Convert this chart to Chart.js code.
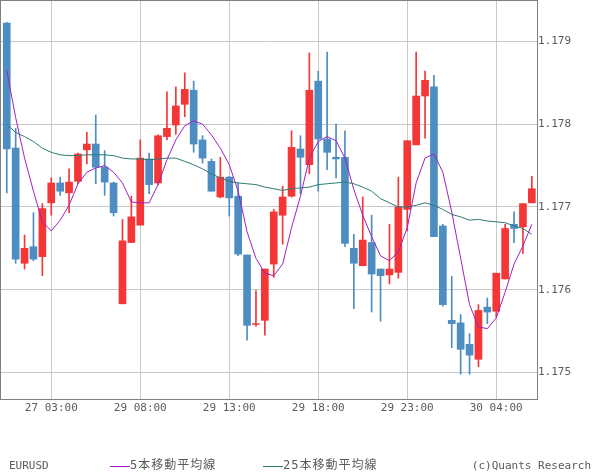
<!DOCTYPE html>
<html>
<head>
<meta charset="utf-8">
<title>EURUSD</title>
<script src="https://cdn.jsdelivr.net/npm/chart.js@4/dist/chart.umd.min.js"></script>
<style>
    body { margin: 0; background: #ffffff; }
    #chart-box { width: 600px; height: 475px; }
</style>
</head>
<body>
<div id="chart-box"><canvas id="candleChart" width="600" height="475"></canvas></div>
<script>
// Candle data (30 min bars)
const opens = [1.17922, 1.17771, 1.17632, 1.17652, 1.17640, 1.17705, 1.17729, 1.17717, 1.17731, 1.17769,
    1.17776, 1.17748, 1.17729, 1.17583, 1.17657, 1.17678, 1.17758, 1.17729, 1.17785, 1.17799,
    1.17824, 1.17841, 1.17781, 1.17755, 1.17712, 1.17736, 1.17713, 1.17642, 1.17558, 1.17563,
    1.17631, 1.17690, 1.17713, 1.17770, 1.17751, 1.17852, 1.17782, 1.17760, 1.17760, 1.17650,
    1.17629, 1.17657, 1.17625, 1.17618, 1.17621, 1.17697, 1.17775, 1.17834, 1.17845, 1.17677,
    1.17563, 1.17560, 1.17534, 1.17516, 1.17579, 1.17574, 1.17613, 1.17679, 1.17676, 1.17705];
const highs = [1.17923, 1.17795, 1.17666, 1.17693, 1.17704, 1.17735, 1.17736, 1.17746, 1.17765, 1.17790,
    1.17811, 1.17768, 1.17730, 1.17685, 1.17713, 1.17781, 1.17765, 1.17787, 1.17839, 1.17845,
    1.17862, 1.17852, 1.17786, 1.17758, 1.17760, 1.17737, 1.17729, 1.17642, 1.17599, 1.17625,
    1.17697, 1.17725, 1.17792, 1.17786, 1.17886, 1.17864, 1.17887, 1.17800, 1.17792, 1.17667,
    1.17712, 1.17690, 1.17625, 1.17679, 1.17736, 1.17780, 1.17887, 1.17864, 1.17859, 1.17679,
    1.17616, 1.17570, 1.17547, 1.17582, 1.17590, 1.17620, 1.17679, 1.17694, 1.17704, 1.17737];
const lows = [1.17717, 1.17632, 1.17625, 1.17635, 1.17617, 1.17690, 1.17714, 1.17693, 1.17728, 1.17752,
    1.17728, 1.17714, 1.17689, 1.17583, 1.17657, 1.17678, 1.17716, 1.17727, 1.17781, 1.17788,
    1.17809, 1.17766, 1.17753, 1.17719, 1.17711, 1.17689, 1.17641, 1.17539, 1.17556, 1.17545,
    1.17615, 1.17655, 1.17712, 1.17716, 1.17740, 1.17719, 1.17745, 1.17735, 1.17652, 1.17577,
    1.17629, 1.17573, 1.17562, 1.17607, 1.17614, 1.17671, 1.17775, 1.17783, 1.17664, 1.17580,
    1.17530, 1.17498, 1.17498, 1.17507, 1.17559, 1.17567, 1.17613, 1.17657, 1.17644, 1.17705];
const closes = [1.17770, 1.17637, 1.17650, 1.17637, 1.17698, 1.17729, 1.17719, 1.17730, 1.17764, 1.17776,
    1.17748, 1.17730, 1.17693, 1.17659, 1.17688, 1.17759, 1.17727, 1.17786, 1.17795, 1.17822,
    1.17842, 1.17776, 1.17759, 1.17719, 1.17736, 1.17711, 1.17643, 1.17557, 1.17559, 1.17625,
    1.17694, 1.17712, 1.17772, 1.17760, 1.17841, 1.17782, 1.17766, 1.17758, 1.17656, 1.17632,
    1.17660, 1.17619, 1.17617, 1.17625, 1.17700, 1.17780, 1.17834, 1.17853, 1.17664, 1.17582,
    1.17559, 1.17528, 1.17521, 1.17575, 1.17573, 1.17620, 1.17674, 1.17674, 1.17704, 1.17722];

// Moving averages as drawn on the picture
const ma5 = [1.17865, 1.17808, 1.17759, 1.17719, 1.17682, 1.17671, 1.17684, 1.17702, 1.17728, 1.17742,
    1.17747, 1.17750, 1.17742, 1.17729, 1.17706, 1.17705, 1.17705, 1.17727, 1.17757, 1.17781,
    1.17798, 1.17804, 1.17800, 1.17787, 1.17771, 1.17751, 1.17719, 1.17670, 1.17638, 1.17620,
    1.17617, 1.17631, 1.17675, 1.17713, 1.17759, 1.17779, 1.17785, 1.17780, 1.17759, 1.17721,
    1.17690, 1.17664, 1.17641, 1.17635, 1.17646, 1.17675, 1.17729, 1.17759, 1.17764, 1.17742,
    1.17694, 1.17638, 1.17582, 1.17555, 1.17553, 1.17566, 1.17597, 1.17631, 1.17653, 1.17679];
const ma25 = [1.17800, 1.17790, 1.17785, 1.17779, 1.17771, 1.17766, 1.17763, 1.17762, 1.17762, 1.17763,
    1.17763, 1.17763, 1.17762, 1.17759, 1.17758, 1.17758, 1.17757, 1.17758, 1.17759, 1.17759,
    1.17755, 1.17751, 1.17746, 1.17740, 1.17735, 1.17731, 1.17729, 1.17728, 1.17727, 1.17724,
    1.17722, 1.17720, 1.17722, 1.17723, 1.17724, 1.17727, 1.17728, 1.17729, 1.17730, 1.17728,
    1.17724, 1.17719, 1.17710, 1.17705, 1.17700, 1.17700, 1.17702, 1.17705, 1.17702, 1.17697,
    1.17691, 1.17688, 1.17684, 1.17685, 1.17683, 1.17682, 1.17681, 1.17677, 1.17674, 1.17667];

// Axis ticks
const timeTickIndex = [5, 15, 25, 35, 45, 55];
const timeTickLabels = ['27 03:00', '29 08:00', '29 13:00', '29 18:00', '29 23:00', '30 04:00'];
const priceTicks = [1.175, 1.176, 1.177, 1.178, 1.179];

const upColor = '#f43636';
const downColor = '#4d8dc1';
const ma5Color = '#a020c0';
const ma25Color = '#2b7b73';
const textColor = '#5a5a5a';
const monoFont = "'DejaVu Sans Mono', 'Noto Sans CJK JP', monospace";

// Build the chart datasets
const candleColors = opens.map((o, i) => closes[i] >= o ? upColor : downColor);
const wickData = highs.map((h, i) => ({ x: i, y: [lows[i], h] }));
const bodyData = opens.map((o, i) => ({ x: i, y: [o, closes[i]] }));
const ma5Data = ma5.map((v, i) => ({ x: i, y: v }));
const ma25Data = ma25.map((v, i) => ({ x: i, y: v }));

// Frame + bottom legend, drawn after the chart
const frameAndLegend = {
    id: 'frameAndLegend',
    afterDraw(chart) {
        const ctx = chart.ctx;
        const area = chart.chartArea;
        ctx.save();
        ctx.strokeStyle = '#808080';
        ctx.lineWidth = 1;
        ctx.strokeRect(area.left + 0.5, area.top + 0.5, area.right - area.left, area.bottom - area.top);

        const y = 466;
        ctx.textBaseline = 'middle';
        ctx.fillStyle = textColor;
        ctx.font = '11px ' + monoFont;
        ctx.fillText('EURUSD', 9, y);

        ctx.textAlign = 'right';
        ctx.fillText('(c)Quants Research', 591, y);
        ctx.textAlign = 'left';

        // legend items for the two averages
        const items = [
            { x: 110, label: '5本移動平均線', color: ma5Color },
            { x: 263, label: '25本移動平均線', color: ma25Color }
        ];
        items.forEach(item => {
            ctx.strokeStyle = item.color;
            ctx.beginPath();
            ctx.moveTo(item.x, y + 0.5);
            ctx.lineTo(item.x + 20, y + 0.5);
            ctx.stroke();
            ctx.fillStyle = textColor;
            ctx.font = '12px ' + monoFont;
            ctx.letterSpacing = '1px';
            ctx.fillText(item.label, item.x + 20, y);
            ctx.letterSpacing = '0px';
        });
        ctx.restore();
    }
};

const ctx = document.getElementById('candleChart').getContext('2d');
const candleChart = new Chart(ctx, {
    type: 'bar',
    data: {
        datasets: [
            {
                type: 'line',
                label: '5本移動平均線',
                data: ma5Data,
                borderColor: ma5Color,
                borderWidth: 1,
                pointRadius: 0,
                tension: 0,
                order: 0
            },
            {
                type: 'line',
                label: '25本移動平均線',
                data: ma25Data,
                borderColor: ma25Color,
                borderWidth: 1,
                pointRadius: 0,
                tension: 0,
                order: 1
            },
            {
                label: 'body',
                data: bodyData,
                backgroundColor: candleColors,
                barThickness: 7,
                grouped: false,
                order: 2
            },
            {
                label: 'wick',
                data: wickData,
                backgroundColor: candleColors,
                barThickness: 1,
                grouped: false,
                order: 3
            }
        ]
    },
    options: {
        responsive: false,
        animation: false,
        devicePixelRatio: 1,
        layout: { padding: 0 },
        plugins: {
            legend: { display: false },
            tooltip: { enabled: false }
        },
        scales: {
            x: {
                type: 'linear',
                offset: false,
                min: -0.76,
                max: 59.58,
                afterFit: (scale) => {
                    scale.height = 76;
                    scale.paddingLeft = 0;
                    scale.paddingRight = 0;
                },
                afterBuildTicks: (scale) => {
                    scale.ticks = timeTickIndex.map(v => ({ value: v }));
                },
                grid: { color: '#c8c8c8', drawTicks: false, offset: false },
                border: { display: false },
                ticks: {
                    padding: 3,
                    maxRotation: 0,
                    autoSkip: false,
                    color: textColor,
                    font: { family: monoFont, size: 11 },
                    callback: (value) => timeTickLabels[timeTickIndex.indexOf(value)]
                }
            },
            y: {
                position: 'right',
                min: 1.17468,
                max: 1.1795,
                afterFit: (scale) => {
                    scale.width = 63;
                    scale.paddingTop = 0;
                    scale.paddingBottom = 0;
                },
                afterBuildTicks: (scale) => {
                    scale.ticks = priceTicks.map(v => ({ value: v }));
                },
                grid: { color: '#c8c8c8', drawTicks: false },
                border: { display: false },
                ticks: {
                    padding: 1,
                    color: textColor,
                    font: { family: monoFont, size: 11 },
                    callback: (value) => value.toFixed(3)
                }
            }
        }
    },
    plugins: [frameAndLegend]
});
</script>
</body>
</html>
